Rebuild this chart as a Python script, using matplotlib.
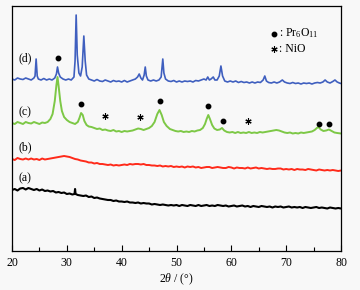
import matplotlib
matplotlib.use("Agg")
import matplotlib.pyplot as plt

plt.rcParams['font.family'] = ['Liberation Serif', 'DejaVu Serif']
plt.rcParams['mathtext.fontset'] = 'custom'
plt.rcParams['mathtext.rm'] = 'Liberation Serif'
plt.rcParams['mathtext.it'] = 'Liberation Serif:italic'

# ---- data (intensity in arbitrary offset units) ----
d_x = [20, 20.5, 21, 21.5, 22, 22.5, 23, 23.5, 24, 24.2, 24.4, 24.6, 24.8, 25.3, 25.8, 26.3, 26.8, 27.3, 27.8,
       28.1, 28.3, 28.5, 28.8, 29.3, 29.8, 30.3, 30.8, 31.3, 31.5, 31.7, 31.9, 32.2, 32.5, 32.8, 33.1, 33.35,
       33.6, 34, 34.5, 35, 35.5, 36, 36.5, 37, 37.5, 38, 38.5, 39, 39.5, 40, 40.5, 41, 41.5, 42, 42.5, 42.9,
       43.2, 43.5, 43.8, 44.1, 44.3, 44.5, 44.8, 45.3, 45.8, 46.3, 46.8, 47.2, 47.5, 47.7, 48, 48.5, 49, 49.5,
       50, 50.5, 51, 51.5, 52, 52.5, 53, 53.5, 54, 54.5, 55, 55.4, 55.7, 56, 56.3, 56.7, 57, 57.4, 57.8, 58.1,
       58.4, 58.8, 59.3, 59.8, 60.3, 60.8, 61.3, 61.8, 62.3, 62.8, 63.3, 63.8, 64.3, 64.8, 65.3, 65.8, 66.1,
       66.4, 66.8, 67.3, 67.8, 68.3, 68.8, 69.3, 69.7, 70.2, 70.7, 71.2, 71.7, 72.2, 72.7, 73.2, 73.7, 74.2,
       74.7, 75.2, 75.7, 76.2, 76.7, 77.1, 77.5, 78, 78.5, 78.9, 79.3, 79.7, 80]
d_y = [172, 171, 173, 172, 171.5, 173, 172, 171, 173, 175, 192, 175, 172, 171, 172.5, 171, 172, 171, 173,
       177, 184, 178, 174, 172, 171, 172, 171, 174, 190, 236, 196, 178, 175, 184, 215, 190,
       176, 172, 171, 170, 171.5, 170, 169.5, 171, 170, 169, 170.5, 169.5, 170, 169, 170.5, 169, 170, 171, 172, 174,
       177, 173, 171, 176, 184, 175, 171, 170, 171, 170, 171, 174, 192, 178, 172, 170, 169.5, 170.5,
       169, 170, 169, 170, 169.5, 170, 169, 170.5, 170, 171, 172, 171, 174, 171, 172, 174, 171, 171, 175, 185,
       175, 170, 169, 170, 169, 170, 168.5, 169.5, 168.5, 169, 168, 169, 168, 169, 168.5, 171, 175,
       170, 168.5, 168, 169, 168, 169, 171, 169, 168, 167.5, 168.5, 167.5, 168, 167, 168, 167.5, 168,
       167, 168, 168.5, 168, 169, 171, 169, 168, 169.5, 171, 169, 168, 167.5]

c_x = [20, 20.5, 21, 21.5, 22, 22.5, 23, 23.5, 24, 24.5, 25, 25.5, 26, 26.5, 27, 27.4, 27.8, 28.1, 28.3, 28.5,
       28.8, 29.1, 29.5, 30, 30.5, 31, 31.5, 32, 32.3, 32.6, 32.9, 33.2, 33.6, 34, 34.5, 35, 35.5, 36, 36.5,
       37, 37.5, 38, 38.5, 39, 39.5, 40, 40.5, 41, 41.5, 42, 42.5, 43, 43.5, 44, 44.5, 45, 45.5, 46, 46.5,
       46.9, 47.3, 47.7, 48.2, 48.8, 49.3, 49.8, 50.3, 50.8, 51.3, 51.8, 52.3, 52.8, 53.3, 53.8, 54.3, 54.8,
       55.2, 55.5, 55.8, 56.1, 56.5, 56.9, 57.4, 57.9, 58.3, 58.7, 59.2, 59.7, 60.2, 60.7, 61.2, 61.7, 62.2,
       62.7, 63.2, 63.7, 64.2, 64.7, 65.2, 65.7, 66.2, 66.7, 67.2, 67.7, 68.2, 68.7, 69.2, 69.7, 70.2, 70.7,
       71.2, 71.7, 72.2, 72.7, 73.2, 73.7, 74.2, 74.7, 75.2, 75.6, 75.9, 76.3, 76.8, 77.3, 77.8, 78.3, 78.8,
       79.3, 80]
c_y = [128, 127, 129, 128, 127, 129, 128, 127.5, 129, 128, 127, 128.5, 128, 129, 132, 137, 150, 166, 174, 165,
       150, 140, 134, 131, 129, 128, 127, 129, 133, 138, 136, 130, 126, 124.5, 124, 123, 122, 122.5, 121,
       121.5, 120.5, 120, 121, 119.5, 120, 119, 120, 119.5, 120, 120.5, 121.5, 122.5, 122, 121, 122, 123, 125, 129, 137,
       141, 136, 129, 125, 122, 121, 120, 119.5, 120, 119, 119.5, 119, 120, 119.5, 120.5, 121, 123,
       127, 132, 136, 132, 126, 122.5, 121, 121.5, 123, 120.5, 119, 118.5, 119, 118, 119, 118, 118.5,
       118, 119, 118, 118.5, 118, 119, 118.5, 119, 119.5, 120, 120.5, 121, 120.5, 119.5, 118.5, 118, 118.5,
       117.5, 118, 117.5, 118.5, 118, 118.5, 119, 119.5, 121, 123, 124, 121.5, 120, 120.5, 121.5, 120, 118.5,
       118, 117.5]

b_x = [20 + 0.5 * i for i in range(121)]
b_y = [92, 91, 93, 92, 91.5, 92.5, 91.5, 92.5, 91.5, 92, 91, 92.5, 91.5, 92, 92.5, 93, 93.5, 94, 94.5, 95,
       94.5, 94, 93, 92, 91.5, 90.5, 90, 89.5, 88.5, 88.5, 87.5, 88, 87, 87, 86.5, 86, 86.5, 85.5, 86, 85.5,
       86, 86.5, 86, 87, 86.5, 87, 87, 86.5, 87, 86, 86, 85.5, 85.5, 85, 85.5, 84.5, 85, 84.5, 85, 84,
       84.5, 84, 84.5, 83.5, 84.5, 84, 84.5, 83.5, 84, 83, 83.5, 84, 84, 83, 83.5, 84, 83.5, 83, 83, 84,
       83.5, 82.5, 83.5, 83, 83, 82.5, 83.5, 82.5, 83, 83.5, 82.5, 83, 82.5, 82, 82.5, 82, 82, 82.5, 82.5, 81.5,
       82, 81.5, 82, 81, 82, 81.5, 81.5, 81, 82, 81.5, 81, 80.5, 81.5, 81, 80.5, 81, 80.5, 81, 80.5, 80, 80.5]

a_x = [20, 20.5, 21, 21.5, 22, 22.5, 23, 23.5, 24, 24.5, 25, 25.5, 26, 26.5, 27, 27.5, 28, 28.5, 29, 29.5,
       30, 30.5, 31, 31.4, 31.5, 31.6, 32, 32.5, 33, 33.5, 34, 34.5, 35, 35.5, 36, 36.5, 37, 37.5, 38, 38.5,
       39, 39.5, 40, 40.5, 41, 41.5, 42, 42.5, 43, 43.5, 44, 44.5, 45, 45.5, 46, 46.5, 47, 47.5, 48, 48.5,
       49, 49.5, 50, 50.5, 51, 51.5, 52, 52.5, 53, 53.5, 54, 54.5, 55, 55.5, 56, 56.5, 57, 57.5, 58, 58.5,
       59, 59.5, 60, 60.5, 61, 61.5, 62, 62.5, 63, 63.5, 64, 64.5, 65, 65.5, 66, 66.5, 67, 67.5, 68, 68.5,
       69, 69.5, 70, 70.5, 71, 71.5, 72, 72.5, 73, 73.5, 74, 74.5, 75, 75.5, 76, 76.5, 77, 77.5, 78, 78.5,
       79, 79.5, 80]
a_y = [61, 62, 60.5, 62.5, 63, 61.5, 63, 62, 61, 62, 60.5, 61.5, 60, 60.5, 59.5, 60, 58.5, 59, 58, 58.5,
       57, 57.5, 56.5, 57, 62, 57, 56, 55.5, 55, 55.5, 54, 54.5, 53, 53.5, 52.5, 52, 51.5, 51, 51, 50,
       50.5, 49.5, 49.5, 49, 49.5, 48.5, 48.5, 48, 48.5, 47.5, 48, 47.5, 47.5, 46.5, 47, 46.5, 46, 46.5, 46, 45.5,
       46, 45.5, 46, 45, 46, 45.5, 45, 46, 45.5, 45, 46, 45, 45.5, 46, 45, 45.5, 45, 46, 45.5, 45,
       45.5, 44.5, 45, 45.5, 44.5, 45, 45.5, 44.5, 45, 44, 45, 44.5, 44, 45, 44.5, 44, 44.5, 43.5, 44.5, 44,
       44.5, 43.5, 44, 44.5, 43.5, 44, 43.5, 44, 43, 44, 43.5, 43, 43.5, 44, 43, 43.5, 43, 42.5, 43.5, 43,
       42.5, 43, 42.5]

labels = ['(d)', '(c)', '(b)', '(a)']
label_y = [193, 139, 104, 73]
pr_dots_x = [28.3, 32.6, 47.0, 55.7, 58.4, 75.9, 77.9]
pr_dots_y = [193.5, 147.5, 150.5, 145, 130, 127.5, 127.5]
nio_x = [37.0, 43.3, 63.1]
nio_y = [135, 134.5, 130]

fig = plt.figure(figsize=(3.6, 2.9), dpi=100, facecolor='#f8f8f8')
ax = fig.add_axes([12 / 360, 39 / 290, 329 / 360, 245 / 290])
ax.set_facecolor('#f8f8f8')

ax.plot(a_x, a_y, color='black', lw=1.5)
ax.plot(b_x, b_y, color='#ff2a1a', lw=1.4)
ax.plot(c_x, c_y, color='#7dc846', lw=1.4)
ax.plot(d_x, d_y, color='#3f5fbf', lw=1.2)

for lab, ly in zip(labels, label_y):
    ax.text(22.4, ly, lab, fontsize=8.5, ha='center', va='center')

ax.plot(pr_dots_x, pr_dots_y, 'o', color='black', ms=3.2, ls='none')
ax.plot(nio_x, nio_y, marker=(6, 2, 0), color='black', ms=4.5, mew=0.8, ls='none')

# legend
ax.plot([67.7], [217.5], 'o', color='black', ms=3.2)
ax.text(68.7, 217.5, r': Pr$_6$O$_{11}$', fontsize=8.5, ha='left', va='center')
ax.plot([67.7], [202.5], marker=(6, 2, 0), color='black', ms=4.5, mew=0.8)
ax.text(68.7, 202.5, ': NiO', fontsize=8.5, ha='left', va='center')

ax.set_xlim(20, 80)
ax.set_ylim(0, 245)
ax.set_xticks([20, 30, 40, 50, 60, 70, 80])
ax.set_xticks([25, 35, 45, 55, 65, 75], minor=True)
ax.set_yticks([])
ax.tick_params(axis='x', which='major', direction='in', length=4, width=0.8, labelsize=8.5, pad=4,
               top=False)
ax.tick_params(axis='x', which='minor', direction='in', length=3, width=0.8, top=False)
for s in ax.spines.values():
    s.set_linewidth(0.9)
ax.set_xlabel(r'$2\theta$ / (°)', fontsize=8.5, labelpad=2)

fig.savefig('out.png', dpi=100, facecolor=fig.get_facecolor())
